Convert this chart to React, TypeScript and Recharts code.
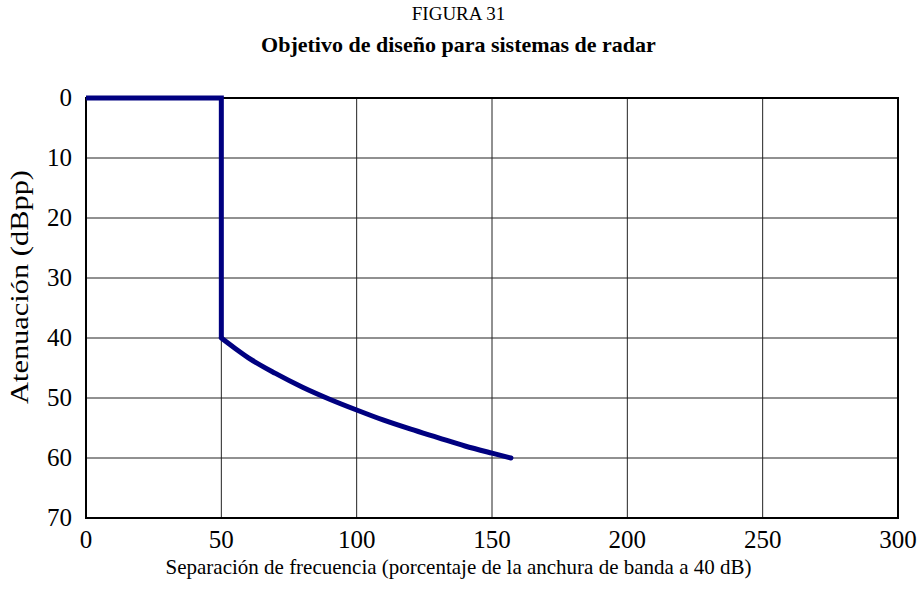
import React from "react";
import { LineChart, Line, XAxis, YAxis, CartesianGrid, ReferenceArea } from "recharts";

const title = "FIGURA 31";
const subtitle = "Objetivo de diseño para sistemas de radar";
const xLabel = "Separación de frecuencia (porcentaje de la anchura de banda a 40 dB)";
const yLabel = "Atenuación (dBpp)";

const xTicks = [0, 50, 100, 150, 200, 250, 300];
const yTicks = [0, 10, 20, 30, 40, 50, 60, 70];

// step part: separation (%) and attenuation (dB)
const stepSeparation = [0, 50, 50];
const stepAttenuation = [0, 0, 40];

// curved part
const curveSeparation = [50, 55, 60, 70, 80, 90, 100, 110, 120, 130, 140, 150, 157];
const curveAttenuation = [40, 41.7, 43.3, 45.9, 48.2, 50.2, 52.0, 53.7, 55.2, 56.6, 58.0, 59.2, 60];

const stepData = stepSeparation.map((x, i) => ({ x, y: stepAttenuation[i] }));
const curveData = curveSeparation.map((x, i) => ({ x, y: curveAttenuation[i] }));

const serif = "'Liberation Serif', 'Times New Roman', serif";
const navy = "#000080";

const XTick = (props: any) => {
  const { x, y, payload } = props;
  return (
    <text x={x} y={y} dy={18} textAnchor="middle" fill="#000" style={{ fontFamily: serif, fontSize: 25 }}>
      {payload.value}
    </text>
  );
};

const YTick = (props: any) => {
  const { x, y, payload } = props;
  return (
    <text x={x} y={y} dy={8} textAnchor="end" fill="#000" style={{ fontFamily: serif, fontSize: 25 }}>
      {payload.value}
    </text>
  );
};

export default function App() {
  return (
    <div style={{ position: "absolute", left: 0, top: 0, width: 917, height: 598, background: "#fff", fontFamily: serif }}>
      <div style={{ position: "absolute", top: 3, left: 0, width: 917, textAlign: "center", fontSize: 19, lineHeight: "22px", color: "#000" }}>{title}</div>
      <div style={{ position: "absolute", top: 32, left: 0, width: 917, textAlign: "center", fontSize: 22, lineHeight: "25px", fontWeight: "bold", color: "#000" }}>{subtitle}</div>
      <div style={{ position: "absolute", top: 0, left: 0 }}>
        <LineChart width={917} height={598} margin={{ top: 98, right: 19, bottom: 40, left: 26 }} style={{ fontFamily: serif }}>
          <CartesianGrid stroke="#222" strokeWidth={1} />
          <XAxis
            type="number"
            dataKey="x"
            domain={[0, 300]}
            ticks={xTicks}
            height={40}
            tickLine={false}
            axisLine={false}
            tickMargin={6}
            tick={<XTick />}
          />
          <YAxis
            type="number"
            dataKey="y"
            domain={[0, 70]}
            ticks={yTicks}
            reversed
            width={60}
            tickLine={false}
            axisLine={false}
            tickMargin={8}
            tick={<YTick />}
          />
          <ReferenceArea x1={0} x2={300} y1={0} y2={70} fill="none" stroke="#000" strokeWidth={2} ifOverflow="visible" />
          <Line
            data={stepData}
            type="linear"
            dataKey="y"
            stroke={navy}
            strokeWidth={5}
            dot={false}
            isAnimationActive={false}
            strokeLinejoin="miter"
          />
          <Line
            data={curveData}
            type="monotoneX"
            dataKey="y"
            stroke={navy}
            strokeWidth={5}
            dot={false}
            isAnimationActive={false}
            strokeLinecap="round"
          />
        </LineChart>
      </div>
      <div style={{ position: "absolute", top: 555, left: 0, width: 917, textAlign: "center", fontSize: 21, lineHeight: "24px", color: "#000" }}>{xLabel}</div>
      <div
        style={{
          position: "absolute",
          left: 20,
          top: 287,
          transform: "translate(-50%, -50%) rotate(-90deg) scaleX(1.17)",
          whiteSpace: "nowrap",
          fontSize: 26,
          lineHeight: "30px",
          color: "#000",
        }}
      >
        {yLabel}
      </div>
    </div>
  );
}
